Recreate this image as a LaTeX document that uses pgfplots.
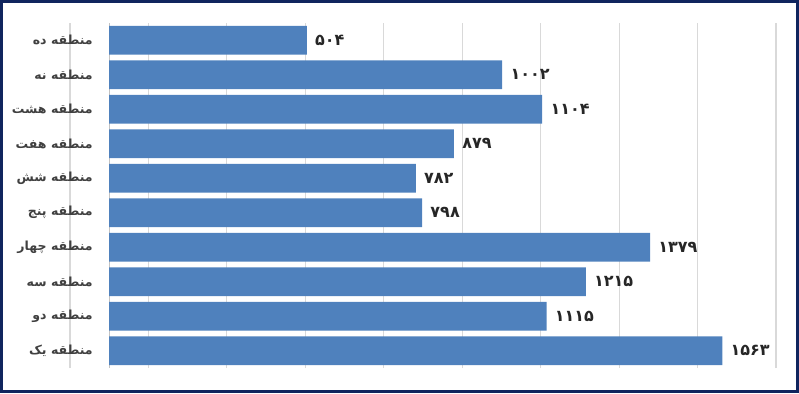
\documentclass[border=0pt]{standalone}
\usepackage{fontspec}
\usepackage{pgfplots}
\pgfplotsset{compat=1.18}
\TeXXeTstate=1
\newfontfamily\arabicfont[Script=Arabic]{DejaVu Sans}
\definecolor{barblue}{RGB}{79,129,189}
\definecolor{labgray}{RGB}{64,64,64}
\definecolor{valgray}{RGB}{38,38,38}
\definecolor{gridgray}{RGB}{217,217,217}
\definecolor{framecol}{RGB}{16,37,94}
\begin{document}
\begin{tikzpicture}
\begin{axis}[
  at={(0,0)}, anchor=south west,
  scale only axis,
  width=529.5pt, height=258.75pt,
  xbar, bar width=21.5pt, bar shift=0pt,
  xmin=-100, xmax=1700,
  ymin=-0.5, ymax=9.5,
  xtick={-100,100,...,1700},
  xticklabels={},
  extra x ticks={0},
  extra x tick labels={},
  extra x tick style={grid style={draw=gridgray!90!black, line width=0.8pt}},
  xmajorgrids,
  grid style={draw=gridgray, line width=0.8pt},
  ytick={0,...,9},
  yticklabels={
    {\arabicfont\beginR منطقه یک\endR},
    {\arabicfont\beginR منطقه دو\endR},
    {\arabicfont\beginR منطقه سه\endR},
    {\arabicfont\beginR منطقه چهار\endR},
    {\arabicfont\beginR منطقه پنج\endR},
    {\arabicfont\beginR منطقه شش\endR},
    {\arabicfont\beginR منطقه هفت\endR},
    {\arabicfont\beginR منطقه هشت\endR},
    {\arabicfont\beginR منطقه نه\endR},
    {\arabicfont\beginR منطقه ده\endR}},
  yticklabel style={anchor=east, inner sep=0pt, xshift=17.25pt, text=labgray, font=\fontsize{9.4}{11}\selectfont\bfseries},
  axis line style={draw=none},
  major tick length=0pt,
  tick style={draw=none},
  point meta=explicit symbolic,
  nodes near coords={\pgfplotspointmeta},
  nodes near coords style={anchor=west, inner sep=0pt, xshift=6pt, text=valgray, font=\arabicfont\fontsize{12}{14}\selectfont\bfseries},
  clip=false,
]
\addplot[fill=barblue, draw=none] coordinates {
  (1563,0) [۱۵۶۳]
  (1115,1) [۱۱۱۵]
  (1215,2) [۱۲۱۵]
  (1379,3) [۱۳۷۹]
  (798,4) [۷۹۸]
  (782,5) [۷۸۲]
  (879,6) [۸۷۹]
  (1104,7) [۱۱۰۴]
  (1002,8) [۱۰۰۲]
  (504,9) [۵۰۴]
};
\end{axis}
\draw[framecol, line width=2pt] (-51.5pt,-17.75pt) rectangle (545.75pt,275pt);
\pgfresetboundingbox
\path (-52.5pt,-18.75pt) rectangle (546.75pt,276pt);
\end{tikzpicture}
\end{document}
